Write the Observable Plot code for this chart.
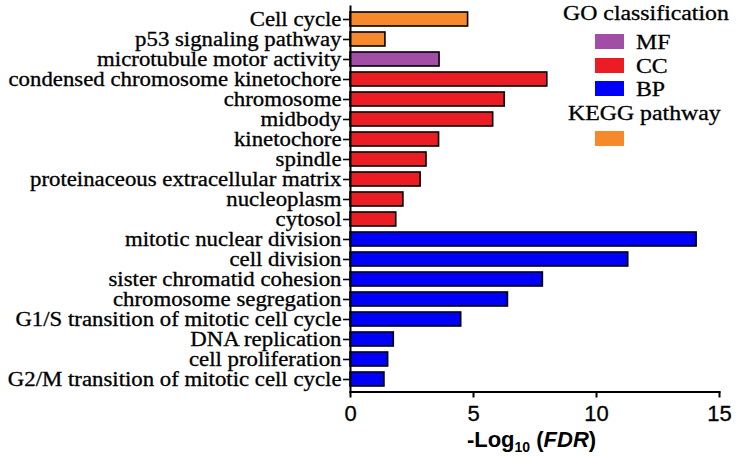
<!DOCTYPE html>
<html>
<head>
<meta charset="utf-8">
<script src="https://cdn.jsdelivr.net/npm/d3@7"></script>
<script src="https://cdn.jsdelivr.net/npm/@observablehq/plot@0.6"></script>
<style>
  html, body { margin: 0; padding: 0; background: #fff; }
  #wrap { position: relative; width: 737px; height: 456px; }
  #legend { position: absolute; left: 0; top: 0; width: 737px; height: 160px; pointer-events: none;
            font-family: "Liberation Serif", "Times New Roman", serif; font-size: 20px; color: #000;
            -webkit-text-stroke: 0.3px #000; }
  .lt { position: absolute; white-space: nowrap; line-height: 1; transform: scaleX(1.19); transform-origin: 0 0; }
  .sw { position: absolute; width: 29px; height: 15px; }
</style>
</head>
<body>
<div id="wrap">
  <div id="chart"></div>
  <div id="legend"></div>
</div>
<script>
const terms = [
  "Cell cycle", "p53 signaling pathway", "microtubule motor activity",
  "condensed chromosome kinetochore", "chromosome", "midbody", "kinetochore",
  "spindle", "proteinaceous extracellular matrix", "nucleoplasm", "cytosol",
  "mitotic nuclear division", "cell division", "sister chromatid cohesion",
  "chromosome segregation", "G1/S transition of mitotic cell cycle",
  "DNA replication", "cell proliferation", "G2/M transition of mitotic cell cycle"
];
const values = [4.78, 1.42, 3.62, 8.0, 6.27, 5.8, 3.6, 3.09, 2.85, 2.15, 1.86,
                14.07, 11.29, 7.82, 6.4, 4.5, 1.76, 1.53, 1.38];
const groups = ["KEGG", "KEGG", "MF", "CC", "CC", "CC", "CC", "CC", "CC", "CC", "CC",
                "BP", "BP", "BP", "BP", "BP", "BP", "BP", "BP"];
const groupNames = ["MF", "CC", "BP", "KEGG"];
const groupColors = ["#a24ea6", "#ec1c24", "#0000fa", "#f7892d"];
const xTicks = [0, 5, 10, 15];

const data = terms.map((t, i) => ({term: t, value: values[i], group: groups[i]}));

const chart = Plot.plot({
  width: 737,
  height: 456,
  marginLeft: 350,
  marginRight: 18,
  marginTop: 6,
  marginBottom: 64.5,
  style: {background: "#fff", overflow: "visible"},
  x: {domain: [0, 15], ticks: xTicks},
  y: {domain: terms, paddingInner: 0.29, paddingOuter: 0.12},
  color: {domain: groupNames, range: groupColors},
  marks: [
    Plot.barX(data, {x: "value", y: "term", fill: "group", stroke: "#000", strokeWidth: 1.6}),
    Plot.axisY({tickSize: 7, tickPadding: 2, label: null, stroke: "#000", strokeWidth: 1.6,
      fontSize: 20, fill: "#000", fontFamily: "Liberation Serif, Times New Roman, serif"}),
    Plot.axisX({tickSize: 6, tickPadding: 7, label: null, stroke: "#000", strokeWidth: 2,
      fontSize: 22, fill: "#000", fontFamily: "Liberation Sans, Arial, sans-serif"}),
    Plot.frame({anchor: "left", stroke: "#000", strokeWidth: 2}),
    Plot.frame({anchor: "bottom", stroke: "#000", strokeWidth: 2})
  ]
});
document.getElementById("chart").appendChild(chart);

const svg = d3.select(chart);
// stretch the serif tick labels horizontally (wide rendering as in the reference)
svg.selectAll('[aria-label="y-axis tick label"] text').each(function() {
  const w = this.getComputedTextLength();
  if (w > 0) {
    d3.select(this)
      .attr("textLength", (w * 1.14).toFixed(1))
      .attr("lengthAdjust", "spacingAndGlyphs");
  }
  d3.select(this).attr("stroke", "#000").attr("stroke-width", 0.3);
});
svg.selectAll('[aria-label="x-axis tick label"] text')
  .attr("stroke", "#000").attr("stroke-width", 0.3);

// axis title with subscript and italic
const xs = chart.scale("x");
const title = svg.append("text")
  .attr("x", xs.apply(7.5) - 3)
  .attr("y", 447)
  .attr("text-anchor", "middle")
  .attr("font-family", "Liberation Sans, Arial, sans-serif")
  .attr("font-weight", "bold")
  .attr("font-size", 22)
  .attr("fill", "#000");
title.append("tspan").text("-Log");
title.append("tspan").attr("font-size", 14).attr("dy", 5).text("10");
title.append("tspan").attr("dy", -5).text(" (");
title.append("tspan").attr("font-style", "italic").text("FDR");
title.append("tspan").text(")");

// legend (HTML overlay)
const leg = document.getElementById("legend");
function addText(txt, left, top) {
  const d = document.createElement("div");
  d.className = "lt"; d.textContent = txt;
  d.style.left = left + "px"; d.style.top = top + "px";
  leg.appendChild(d);
}
function addSwatch(color, left, top) {
  const d = document.createElement("div");
  d.className = "sw"; d.style.background = color;
  d.style.left = left + "px"; d.style.top = top + "px";
  leg.appendChild(d);
}
addText("GO classification", 563, 3);
["MF", "CC", "BP"].forEach((g, i) => {
  addSwatch(groupColors[groupNames.indexOf(g)], 595, 34 + i * 23.5);
  addText(g, 636, 32 + i * 23.5);
});
addText("KEGG pathway", 568, 103);
addSwatch(groupColors[groupNames.indexOf("KEGG")], 595, 131);
</script>
</body>
</html>
